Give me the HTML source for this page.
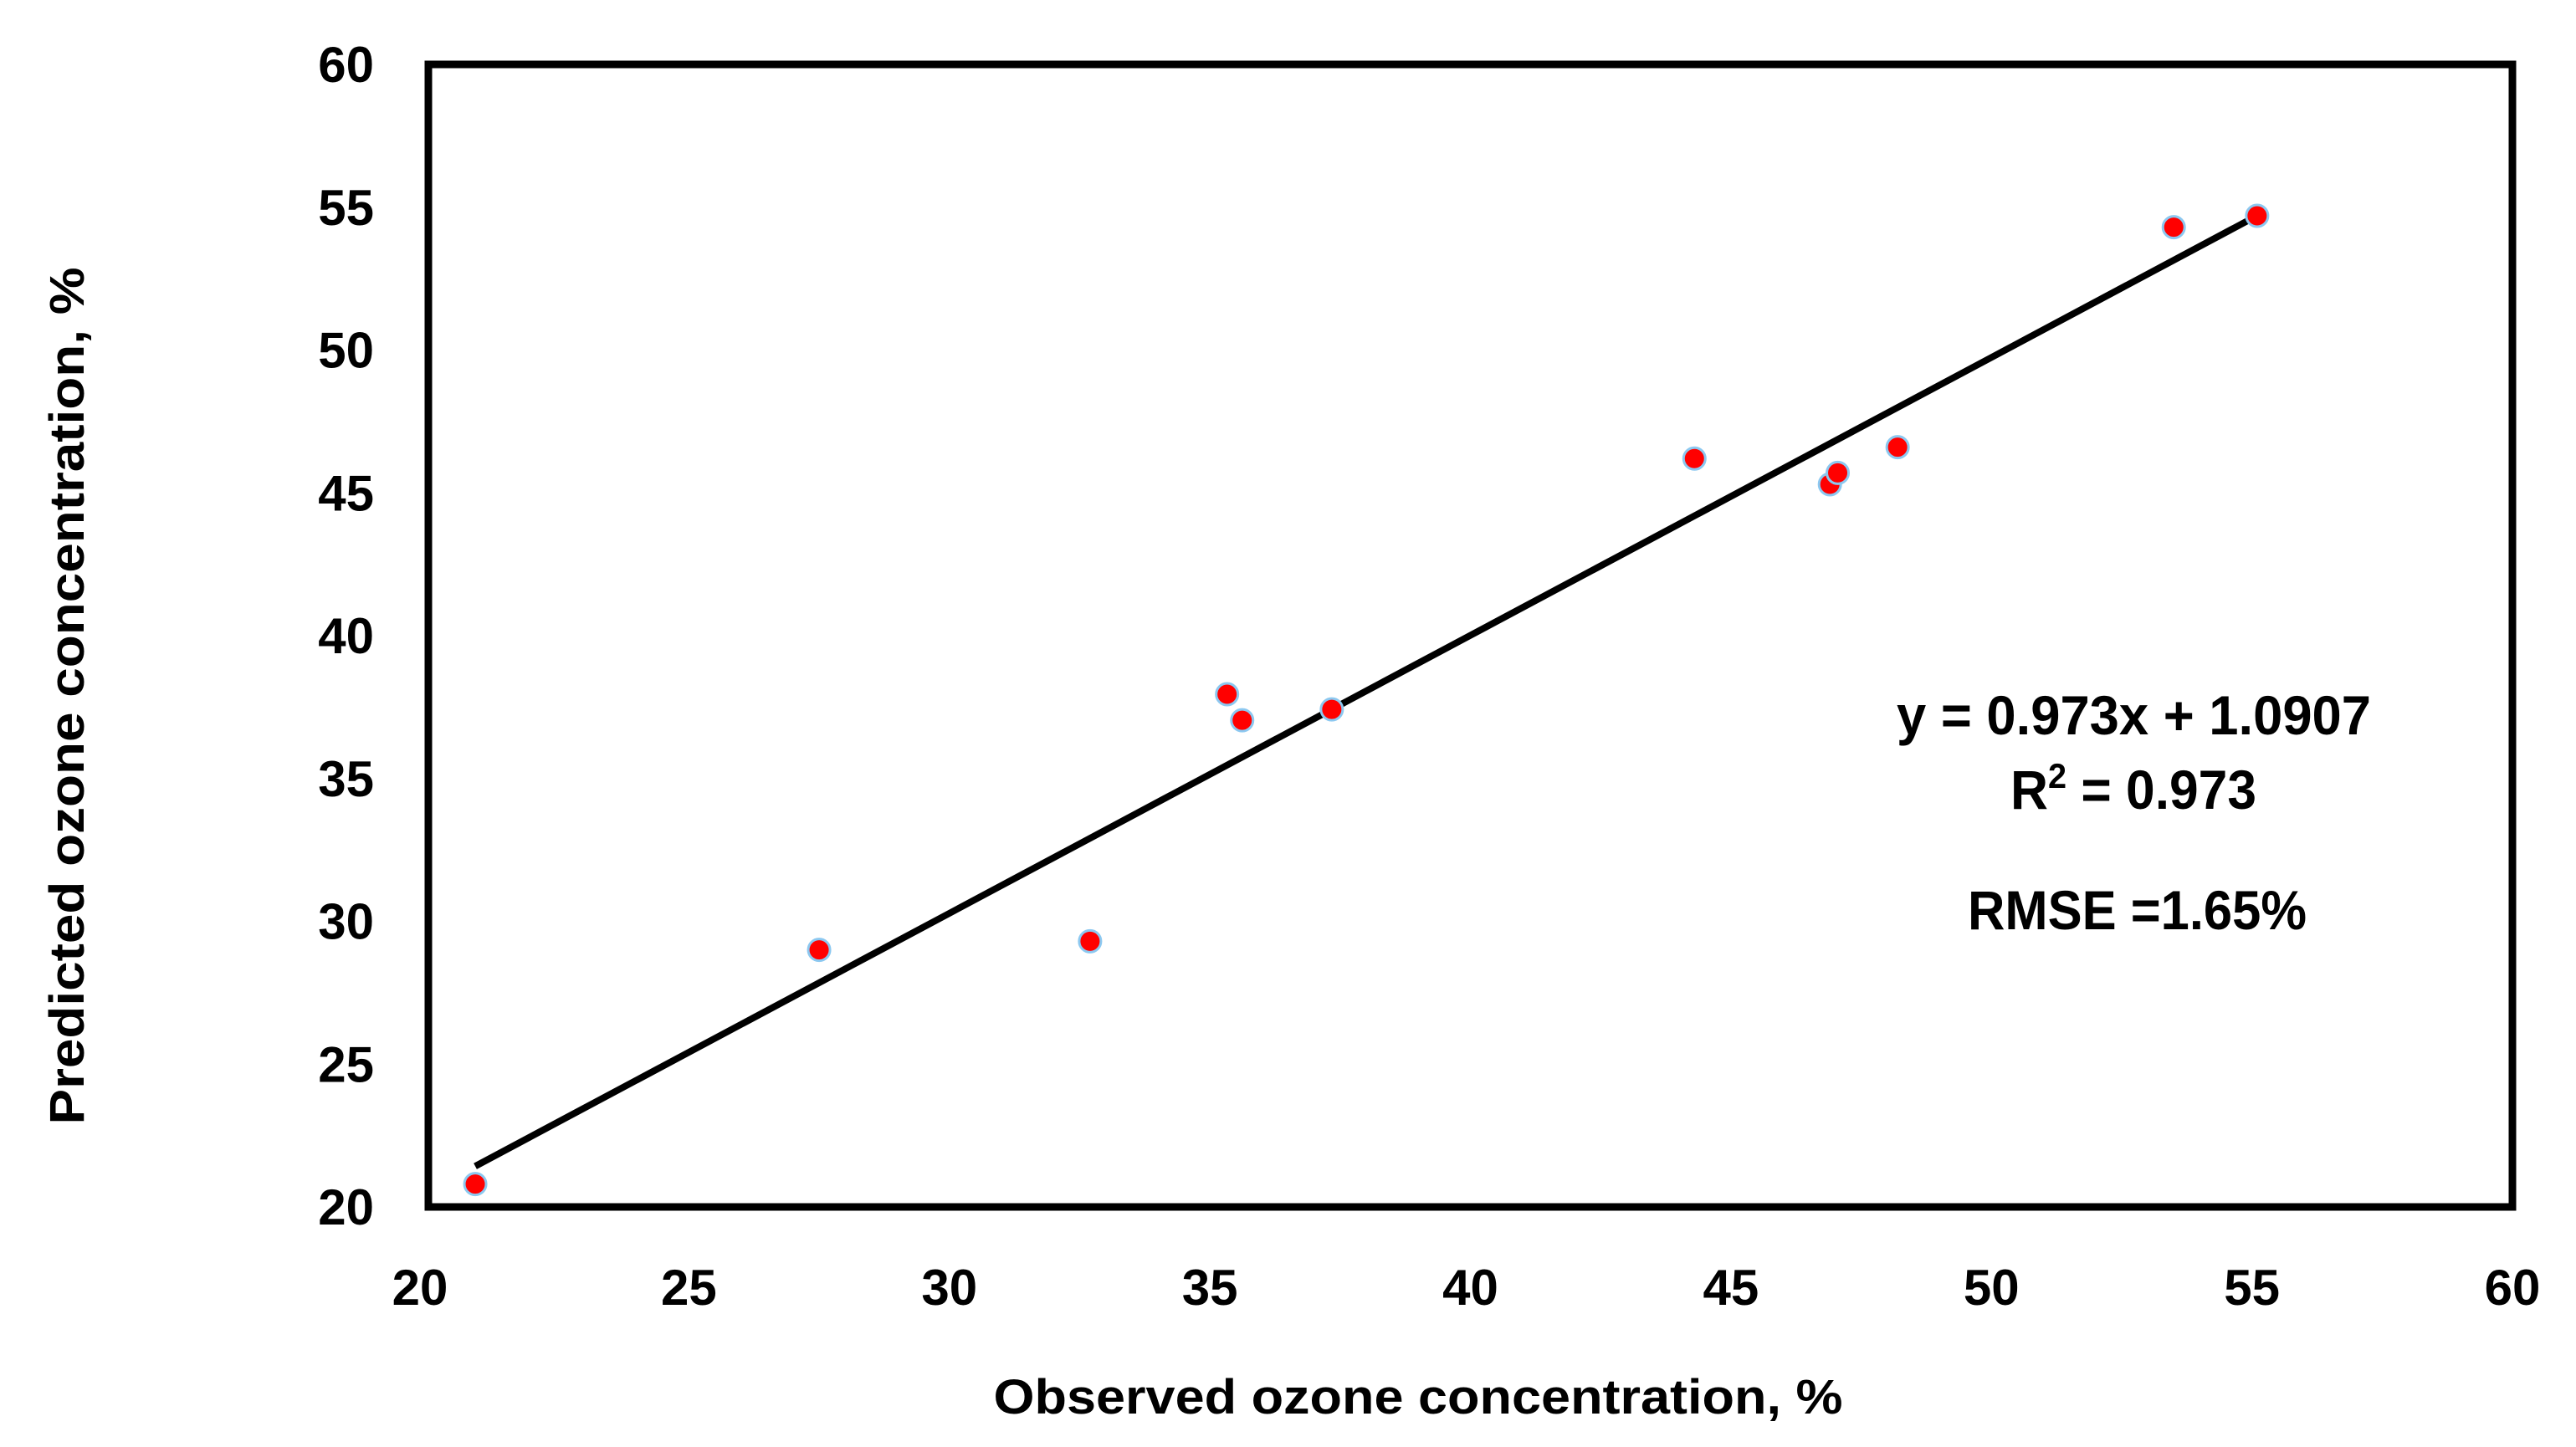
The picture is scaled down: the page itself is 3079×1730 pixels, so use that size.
<!DOCTYPE html>
<html><head><meta charset="utf-8"><style>
html,body{margin:0;padding:0;background:#fff;}
svg{display:block;}
text{font-family:"Liberation Sans",sans-serif;font-weight:bold;fill:#000;}
</style></head><body>
<svg id="chart" width="3079" height="1730" viewBox="0 0 3079 1730" xmlns="http://www.w3.org/2000/svg">
<g id="ticks"></g>
<g id="marks"></g>
<rect x="512" y="77" width="2491" height="1366" fill="none" stroke="#000" stroke-width="9"/>
<text x="1695" y="1690" font-size="58" text-anchor="middle" textLength="1015" lengthAdjust="spacingAndGlyphs">Observed ozone concentration, %</text>
<text transform="translate(100,832) rotate(-90)" font-size="58" text-anchor="middle" textLength="1025" lengthAdjust="spacingAndGlyphs">Predicted ozone concentration, %</text>
<text x="2267" y="878" font-size="66" textLength="567" lengthAdjust="spacingAndGlyphs">y = 0.973x + 1.0907</text>
<text x="2403" y="967" font-size="66" textLength="294" lengthAdjust="spacingAndGlyphs">R<tspan font-size="42" dy="-25">2</tspan><tspan dy="25"> = 0.973</tspan></text>
<text x="2352" y="1111" font-size="66" textLength="405" lengthAdjust="spacingAndGlyphs">RMSE =1.65%</text>
</svg>
<script>
const xTicks = [20, 25, 30, 35, 40, 45, 50, 55, 60];
const yTicks = [20, 25, 30, 35, 40, 45, 50, 55, 60];
const observed = [20.9, 27.5, 32.7, 35.33, 35.62, 37.34, 44.3, 46.9, 47.05, 48.2, 53.5, 55.1];
const predicted = [20.8, 29.0, 29.3, 37.95, 37.04, 37.42, 46.2, 45.3, 45.7, 46.6, 54.3, 54.7];
const slope = 0.973;
const intercept = 1.0907;

const NS = "http://www.w3.org/2000/svg";
function sx(v){ return 512 + (v - 20) * (3003 - 512) / 40; }
function sy(v){ return 1443 - (v - 20) * (1443 - 77) / 40; }
const ticksG = document.getElementById('ticks');
const marksG = document.getElementById('marks');

xTicks.forEach(function(t){
  const el = document.createElementNS(NS, 'text');
  
  
  el.setAttribute('x', t === 20 ? sx(t) - 10 : sx(t));
  el.setAttribute('y', 1560);
  el.setAttribute('font-size', '60');
  el.setAttribute('text-anchor', 'middle');
  el.textContent = t;
  ticksG.appendChild(el);
});
yTicks.forEach(function(t){
  const el = document.createElementNS(NS, 'text');
  
  
  el.setAttribute('x', 447);
  el.setAttribute('y', sy(t) + 21);
  el.setAttribute('font-size', '60');
  el.setAttribute('text-anchor', 'end');
  el.textContent = t;
  ticksG.appendChild(el);
});

const xmin = Math.min.apply(null, observed), xmax = Math.max.apply(null, observed);
const line = document.createElementNS(NS, 'line');


line.setAttribute('x1', sx(xmin)); line.setAttribute('y1', sy(slope * xmin + intercept));
line.setAttribute('x2', sx(xmax)); line.setAttribute('y2', sy(slope * xmax + intercept));
line.setAttribute('stroke', '#000'); line.setAttribute('stroke-width', '8');
marksG.appendChild(line);

observed.forEach(function(o, i){
  const c = document.createElementNS(NS, 'circle');
  
  
  c.setAttribute('cx', sx(o));
  c.setAttribute('cy', sy(predicted[i]));
  c.setAttribute('r', '13');
  c.setAttribute('fill', '#ff0000');
  c.setAttribute('stroke', '#8cc8f0');
  c.setAttribute('stroke-width', '3');
  marksG.appendChild(c);
});
</script>
</body></html>
